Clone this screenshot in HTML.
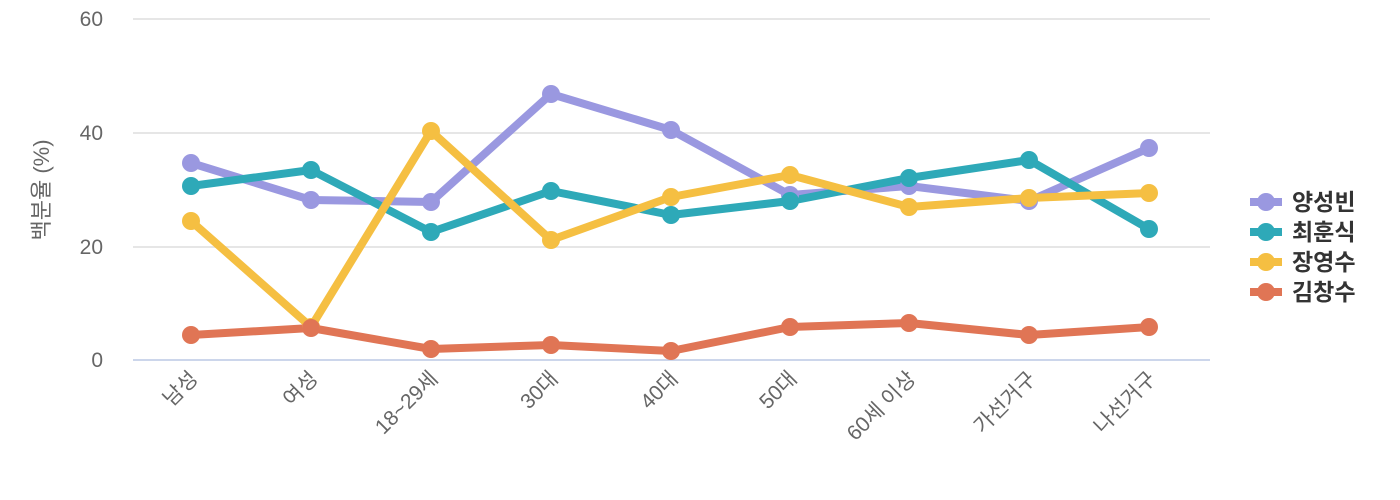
<!DOCTYPE html>
<html><head><meta charset="utf-8"><style>
html,body{margin:0;padding:0;background:#fff;width:1400px;height:500px;overflow:hidden}
svg{display:block}
text{font-family:"Liberation Sans","Noto Sans CJK KR",sans-serif}
</style></head><body>
<svg width="1400" height="500" viewBox="0 0 1400 500">
<g stroke="#e6e6e6" stroke-width="2">
<line x1="133" y1="19" x2="1210" y2="19"/>
<line x1="133" y1="133" x2="1210" y2="133"/>
<line x1="133" y1="247" x2="1210" y2="247"/>
</g>
<line x1="133" y1="360" x2="1210" y2="360" stroke="#ccd6eb" stroke-width="2"/>
<g fill="#666" text-anchor="end" style="font-family:'DejaVu Serif',serif;font-size:21px">
<text x="103" y="26">60</text>
<text x="103" y="140">40</text>
<text x="103" y="254">20</text>
<text x="103" y="367">0</text>
</g>
<text transform="translate(49,190) rotate(-90)" text-anchor="middle" font-size="22" fill="#666">백분율 (%)</text>
<g font-size="21" fill="#666" text-anchor="end">
<text transform="translate(199,380) rotate(-45)">남성</text>
<text transform="translate(319,380) rotate(-45)">여성</text>
<text transform="translate(439,380) rotate(-45)">18~29세</text>
<text transform="translate(559,380) rotate(-45)">30대</text>
<text transform="translate(679,380) rotate(-45)">40대</text>
<text transform="translate(798,380) rotate(-45)">50대</text>
<text transform="translate(917,380) rotate(-45)">60세 이상</text>
<text transform="translate(1037,380) rotate(-45)">가선거구</text>
<text transform="translate(1157,380) rotate(-45)">나선거구</text>
</g>
<g fill="none" stroke-width="8" stroke-linejoin="round" stroke-linecap="round">
<polyline stroke="#9a98e0" points="191,163 311,200 431,202 551,94 671,130 790,195 909,186 1029,201 1149,148"/>
<polyline stroke="#2ea9b8" points="191,186 311,170 431,232 551,191 671,215 790,201 909,178 1029,160 1149,229"/>
<polyline stroke="#f5bf42" points="191,221 311,327 431,131 551,240 671,197 790,175 909,207 1029,198 1149,193"/>
<polyline stroke="#e07555" points="191,335 311,328 431,349 551,345 671,351 790,327 909,323 1029,335 1149,327"/>
</g>
<g fill="#9a98e0"><circle cx="191" cy="163" r="9"/><circle cx="311" cy="200" r="9"/><circle cx="431" cy="202" r="9"/><circle cx="551" cy="94" r="9"/><circle cx="671" cy="130" r="9"/><circle cx="790" cy="195" r="9"/><circle cx="909" cy="186" r="9"/><circle cx="1029" cy="201" r="9"/><circle cx="1149" cy="148" r="9"/></g>
<g fill="#2ea9b8"><circle cx="191" cy="186" r="9"/><circle cx="311" cy="170" r="9"/><circle cx="431" cy="232" r="9"/><circle cx="551" cy="191" r="9"/><circle cx="671" cy="215" r="9"/><circle cx="790" cy="201" r="9"/><circle cx="909" cy="178" r="9"/><circle cx="1029" cy="160" r="9"/><circle cx="1149" cy="229" r="9"/></g>
<g fill="#f5bf42"><circle cx="191" cy="221" r="9"/><circle cx="311" cy="327" r="9"/><circle cx="431" cy="131" r="9"/><circle cx="551" cy="240" r="9"/><circle cx="671" cy="197" r="9"/><circle cx="790" cy="175" r="9"/><circle cx="909" cy="207" r="9"/><circle cx="1029" cy="198" r="9"/><circle cx="1149" cy="193" r="9"/></g>
<g fill="#e07555"><circle cx="191" cy="335" r="9"/><circle cx="311" cy="328" r="9"/><circle cx="431" cy="349" r="9"/><circle cx="551" cy="345" r="9"/><circle cx="671" cy="351" r="9"/><circle cx="790" cy="327" r="9"/><circle cx="909" cy="323" r="9"/><circle cx="1029" cy="335" r="9"/><circle cx="1149" cy="327" r="9"/></g>
<g stroke-width="8">
<line x1="1250" y1="202" x2="1282" y2="202" stroke="#9a98e0"/><circle cx="1266" cy="202" r="9" fill="#9a98e0"/>
<line x1="1250" y1="232" x2="1282" y2="232" stroke="#2ea9b8"/><circle cx="1266" cy="232" r="9" fill="#2ea9b8"/>
<line x1="1250" y1="262" x2="1282" y2="262" stroke="#f5bf42"/><circle cx="1266" cy="262" r="9" fill="#f5bf42"/>
<line x1="1250" y1="292" x2="1282" y2="292" stroke="#e07555"/><circle cx="1266" cy="292" r="9" fill="#e07555"/>
</g>
<g font-size="23" font-weight="bold" fill="#333">
<text x="1292" y="210">양성빈</text>
<text x="1292" y="240">최훈식</text>
<text x="1292" y="270">장영수</text>
<text x="1292" y="300">김창수</text>
</g>
</svg>
</body></html>
